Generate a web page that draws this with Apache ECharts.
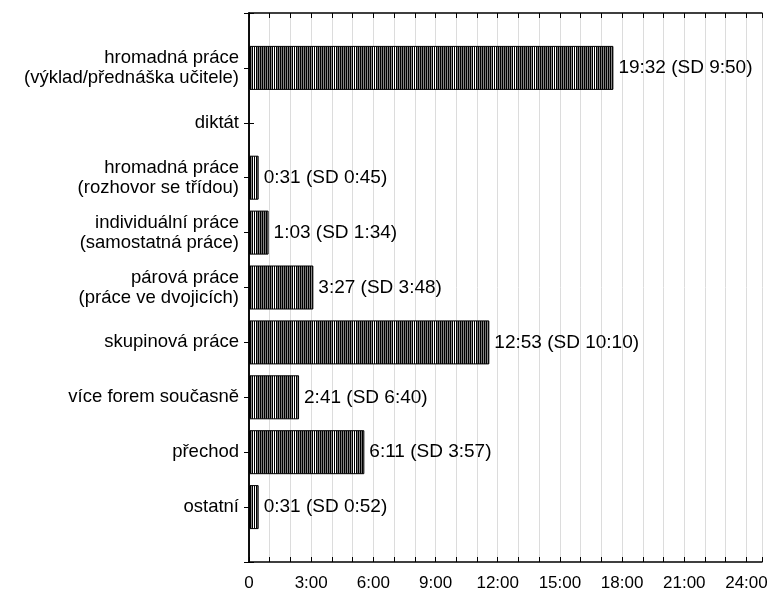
<!DOCTYPE html>
<html>
<head>
<meta charset="utf-8">
<script src="https://cdn.jsdelivr.net/npm/echarts@6/dist/echarts.min.js"></script>
<style>
  html, body { margin: 0; padding: 0; background: #fff; }
  #chart { width: 774px; height: 592px; }
</style>
</head>
<body>
<div id="chart"></div>
<script>
// Teaching forms, top to bottom
const categories = [
  'hromadná práce\n(výklad/přednáška učitele)',
  'diktát',
  'hromadná práce\n(rozhovor se třídou)',
  'individuální práce\n(samostatná práce)',
  'párová práce\n(práce ve dvojicích)',
  'skupinová práce',
  'více forem současně',
  'přechod',
  'ostatní'
];
// Mean duration per lesson, in seconds (null = no occurrence)
const meanSeconds = [1172, null, 31, 63, 207, 773, 161, 371, 31];
// Standard deviation, in seconds
const sdSeconds = [590, null, 45, 94, 228, 610, 400, 237, 52];
// Labels printed under the major ticks of the time axis
const tickLabels = ['0', '3:00', '6:00', '9:00', '12:00', '15:00', '18:00', '21:00', '24:00'];

const TICK_STEP = 200;
const AXIS_MAX = 1650;
const FONT = "'Liberation Sans', Arial, Helvetica, sans-serif";

function mmss(sec) {
  const m = Math.floor(sec / 60);
  const s = sec % 60;
  return m + ':' + (s < 10 ? '0' : '') + s;
}

// vertical-line hatch used as bar fill
function makeHatch() {
  const cols = ['#000', '#777', '#000', '#888', '#000', '#777', '#000', '#888',
                '#000', '#777', '#000', '#888', '#000', '#fff', '#000', '#fff',
                '#000', '#777', '#000', '#888'];
  const c = document.createElement('canvas');
  c.width = cols.length; c.height = 4;
  const ctx = c.getContext('2d');
  cols.forEach(function (col, x) {
    ctx.fillStyle = col;
    ctx.fillRect(x, 0, 1, 4);
  });
  return c;
}

// empty slots above and below keep the categories off the frame
const axisCats = [''].concat(categories, ['']);
const barData = [null].concat(meanSeconds, [null]);

const chart = echarts.init(document.getElementById('chart'), null, { renderer: 'canvas' });

const frameLine = { show: true, lineStyle: { color: '#000', width: 1.5 } };
const tickStyle = { show: true, inside: true, length: 5, lineStyle: { color: '#000', width: 1 } };
const minorTickStyle = { show: true, splitNumber: 3, length: 5, lineStyle: { color: '#000', width: 1 } };
const gridStyle = { show: true, lineStyle: { color: '#dcdcdc', width: 1 } };

chart.setOption({
  animation: false,
  backgroundColor: '#fff',
  textStyle: { fontFamily: FONT },
  grid: { left: 249, right: 12, top: 13, bottom: 30, containLabel: false },
  xAxis: [
    {
      type: 'value', position: 'bottom', min: 0, max: AXIS_MAX, interval: TICK_STEP,
      axisLine: frameLine,
      axisTick: tickStyle,
      minorTick: minorTickStyle,
      splitLine: gridStyle,
      minorSplitLine: gridStyle,
      axisLabel: {
        margin: 13, fontSize: 17, color: '#000', fontFamily: FONT,
        formatter: function (v) {
          if (v % TICK_STEP !== 0) return '';
          const i = v / TICK_STEP;
          return tickLabels[i] !== undefined ? tickLabels[i] : '';
        }
      }
    },
    {
      type: 'value', position: 'top', min: 0, max: AXIS_MAX, interval: TICK_STEP,
      axisLine: frameLine,
      axisTick: tickStyle,
      minorTick: minorTickStyle,
      splitLine: { show: false },
      axisLabel: { show: false }
    }
  ],
  yAxis: [
    {
      type: 'category', data: axisCats, inverse: true, boundaryGap: false, position: 'left',
      axisLine: frameLine,
      axisTick: tickStyle,
      splitLine: { show: false },
      axisLabel: {
        margin: 10, fontSize: 18.5, lineHeight: 20, color: '#000', fontFamily: FONT, align: 'right'
      }
    },
    {
      type: 'category', data: axisCats, inverse: true, boundaryGap: false, position: 'right',
      axisLine: frameLine,
      axisTick: tickStyle,
      splitLine: { show: false },
      axisLabel: { show: false }
    }
  ],
  series: [
    {
      type: 'bar',
      xAxisIndex: 0,
      yAxisIndex: 0,
      data: barData,
      barWidth: 44,
      itemStyle: {
        color: { image: makeHatch(), repeat: 'repeat' },
        borderColor: '#000',
        borderWidth: 1
      },
      label: {
        show: true,
        position: 'right',
        distance: 5,
        fontSize: 19,
        color: '#000',
        fontFamily: FONT,
        formatter: function (p) {
          const i = p.dataIndex - 1;
          if (i < 0 || meanSeconds[i] == null) return '';
          return mmss(meanSeconds[i]) + ' (SD ' + mmss(sdSeconds[i]) + ')';
        }
      }
    }
  ]
});
</script>
</body>
</html>
